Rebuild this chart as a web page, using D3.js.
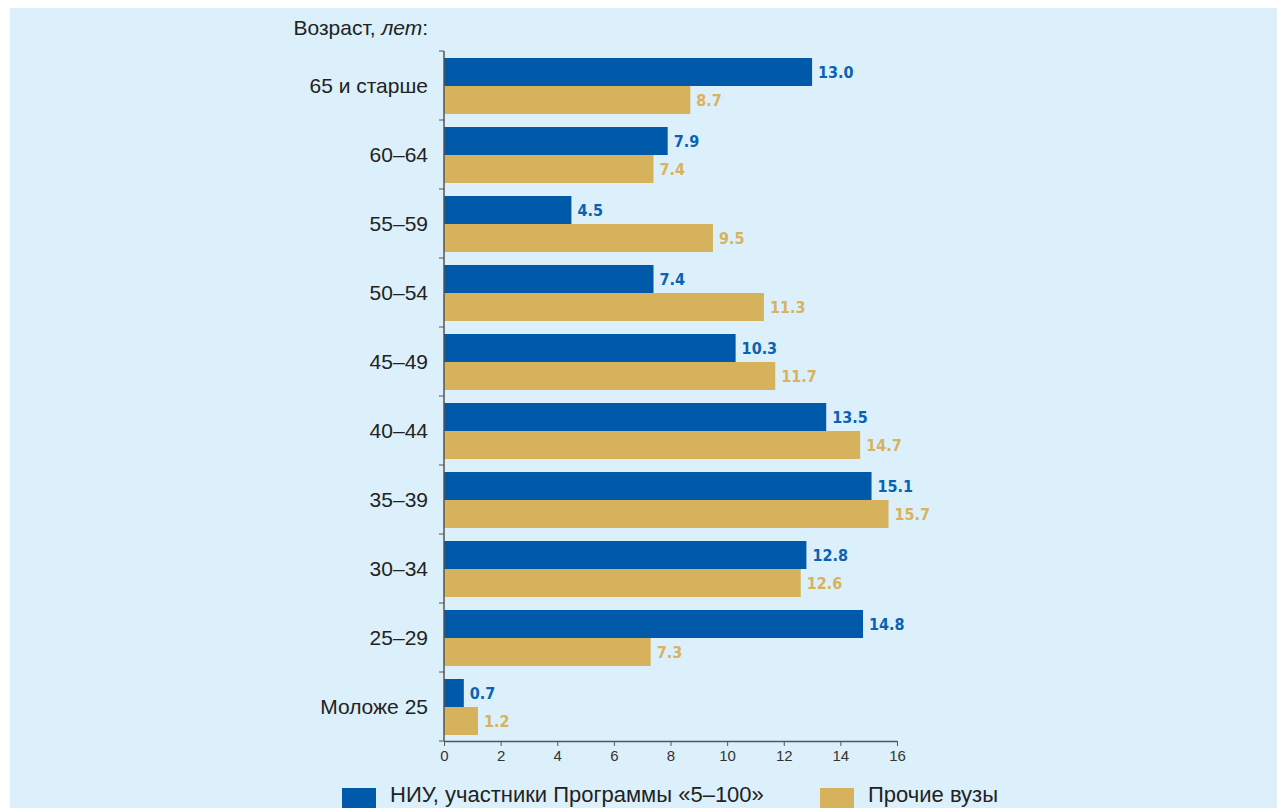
<!DOCTYPE html>
<html lang="ru">
<head>
  <meta charset="UTF-8">
  <script src="https://cdn.jsdelivr.net/npm/d3@7"></script>
  <title>Возраст</title>
  <style>
    body { margin: 0; background: #fff; }
    text { font-family: "Liberation Sans", Arial, sans-serif; }
  </style>
</head>
<body>
  <svg width="1277" height="808" id="chart"></svg>
  <script>
    // data
    let categories = ["65 и старше", "60–64", "55–59", "50–54", "45–49", "40–44", "35–39", "30–34", "25–29", "Моложе 25"];
    let niuValues = [13.0, 7.9, 4.5, 7.4, 10.3, 13.5, 15.1, 12.8, 14.8, 0.7];
    let otherValues = [8.7, 7.4, 9.5, 11.3, 11.7, 14.7, 15.7, 12.6, 7.3, 1.2];
    let seriesNames = ["НИУ, участники Программы «5–100»", "Прочие вузы"];
    let xTicks = [0, 2, 4, 6, 8, 10, 12, 14, 16];

    let blue = "#005aa9", gold = "#d7b25d";
    let blueText = "#0a62b4", goldText = "#d9b25c";

    let svg = d3.select("#chart");

    // background panel
    svg.append("rect")
      .attr("x", 10).attr("y", 8)
      .attr("width", 1267).attr("height", 800)
      .attr("fill", "#dbf0fb");

    let plotLeft = 444, plotTop = 51, plotBottom = 741, plotRight = 897;

    let x = d3.scaleLinear().domain([0, 16]).range([plotLeft, plotRight]);
    let y = d3.scaleBand().domain(categories).range([plotTop, plotBottom]);

    // bars
    let bandPad = 7, barH = 28;
    let groups = svg.selectAll("g.cat")
      .data(categories)
      .enter()
      .append("g")
      .attr("class", "cat");

    groups.append("rect")
      .attr("x", x(0))
      .attr("y", d => y(d) + bandPad)
      .attr("width", (d, i) => x(niuValues[i]) - x(0))
      .attr("height", barH)
      .attr("fill", blue);

    groups.append("rect")
      .attr("x", x(0))
      .attr("y", d => y(d) + bandPad + barH)
      .attr("width", (d, i) => x(otherValues[i]) - x(0))
      .attr("height", barH)
      .attr("fill", gold);

    // value labels
    let valueFont = "'Liberation Sans Narrow', 'DejaVu Sans Condensed', Arial, sans-serif";
    groups.append("text")
      .attr("x", (d, i) => x(niuValues[i]) + 6)
      .attr("y", d => y(d) + bandPad + barH / 2 + 6)
      .text((d, i) => niuValues[i].toFixed(1))
      .style("font-family", valueFont)
      .style("font-weight", "bold")
      .style("font-size", "16px")
      .attr("fill", blueText);

    groups.append("text")
      .attr("x", (d, i) => x(otherValues[i]) + 6)
      .attr("y", d => y(d) + bandPad + barH * 1.5 + 6)
      .text((d, i) => otherValues[i].toFixed(1))
      .style("font-family", valueFont)
      .style("font-weight", "bold")
      .style("font-size", "16px")
      .attr("fill", goldText);

    // y axis: line with ticks at band edges
    svg.append("line")
      .attr("x1", plotLeft).attr("x2", plotLeft)
      .attr("y1", plotTop).attr("y2", plotBottom)
      .attr("stroke", "#555").attr("stroke-width", 1.5);

    let edges = categories.map(c => y(c)).concat([plotBottom]);
    svg.selectAll("line.ytick")
      .data(edges)
      .enter()
      .append("line")
      .attr("class", "ytick")
      .attr("x1", plotLeft - 5).attr("x2", plotLeft)
      .attr("y1", d => d).attr("y2", d => d)
      .attr("stroke", "#555").attr("stroke-width", 1);

    // category labels
    groups.append("text")
      .attr("x", 428)
      .attr("y", d => y(d) + y.bandwidth() / 2 + 7)
      .attr("text-anchor", "end")
      .text(d => d)
      .style("font-size", "21px")
      .attr("fill", "#222");

    // x axis
    let xAxis = svg.append("g")
      .attr("transform", `translate(0,${plotBottom})`)
      .call(d3.axisBottom(x).tickValues(xTicks).tickSize(5).tickSizeOuter(0));
    xAxis.select(".domain").attr("stroke", "#555").attr("stroke-width", 1.5);
    xAxis.selectAll(".tick line").attr("stroke", "#555");
    xAxis.selectAll(".tick text")
      .attr("y", 9)
      .style("font-family", "'Liberation Sans', Arial, sans-serif")
      .style("font-size", "15px")
      .attr("fill", "#333");

    // axis title
    let title = svg.append("text")
      .attr("x", 428).attr("y", 35)
      .attr("text-anchor", "end")
      .style("font-size", "21px")
      .attr("fill", "#222");
    title.append("tspan").text("Возраст, ");
    title.append("tspan").text("лет").style("font-style", "italic");
    title.append("tspan").text(":");

    // legend (pulled up a little so the descenders stay inside the page)
    let legendX = [342, 820];
    let legendColors = [blue, gold];
    let legend = svg.selectAll("g.legend")
      .data(seriesNames)
      .enter()
      .append("g")
      .attr("class", "legend");
    legend.append("rect")
      .attr("x", (d, i) => legendX[i])
      .attr("y", 788)
      .attr("width", 34).attr("height", 20)
      .attr("fill", (d, i) => legendColors[i]);
    legend.append("text")
      .attr("x", (d, i) => legendX[i] + 48)
      .attr("y", 802)
      .text(d => d)
      .style("font-size", "22px")
      .attr("fill", "#222");
  </script>
</body>
</html>
